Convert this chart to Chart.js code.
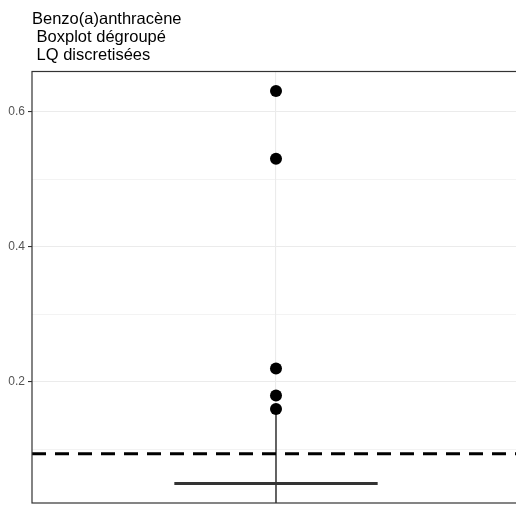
<!DOCTYPE html>
<html>
<head>
<meta charset="utf-8">
<script src="https://cdn.jsdelivr.net/npm/chart.js@4.4.1/dist/chart.umd.min.js"></script>
<style>
    html, body { margin: 0; padding: 0; background: #fff; overflow: hidden; }
    #wrap { width: 516px; height: 505px; overflow: hidden; position: relative; }
    #chart { display: block; position: absolute; left: 0; top: 0; }
</style>
</head>
<body>
<div id="wrap"><canvas id="chart" width="522" height="505"></canvas></div>
<script>
// =========================
// Data
// =========================
const titleLines = ['Benzo(a)anthracène', ' Boxplot dégroupé', ' LQ discretisées'];
const outlierValues = [0.63, 0.53, 0.22, 0.18, 0.16];
const medianValue = 0.05;
const whiskerValues = [0.02, 0.16];
const lqValue = 0.094;
const yMajorTicks = [0.2, 0.4, 0.6];
const yMinorTicks = [0.1, 0.3, 0.5];
const yRange = [0.021, 0.659];
const xRange = [0.4, 1.6];
const boxCenter = 1;
const boxHalfWidth = 0.25;

const round1 = v => Math.round(v * 10) / 10;
const isMajor = v => yMajorTicks.includes(round1(v));

// =========================
// Plugins: title text + panel border
// =========================
const titlePlugin = {
    id: 'titleText',
    afterDraw(chart) {
        const ctx = chart.ctx;
        ctx.save();
        ctx.fillStyle = '#000';
        ctx.font = '16.5px "Liberation Sans", Arial, sans-serif';
        ctx.textAlign = 'left';
        ctx.textBaseline = 'alphabetic';
        titleLines.forEach((line, i) => ctx.fillText(line, 32, 23.5 + i * 18));
        ctx.restore();
    }
};

const borderPlugin = {
    id: 'panelBorder',
    afterDraw(chart) {
        const a = chart.chartArea;
        const ctx = chart.ctx;
        ctx.save();
        ctx.strokeStyle = '#333333';
        ctx.lineWidth = 1.2;
        ctx.strokeRect(a.left, a.top, a.right - a.left, a.bottom - a.top);
        ctx.restore();
    }
};

// Drop the label overhang padding so the panel fills the canvas like ggplot
const noPadding = scale => {
    scale.paddingTop = 0;
    scale.paddingBottom = 0;
    scale.paddingLeft = 0;
    scale.paddingRight = 0;
};

// =========================
// Render chart
// =========================
new Chart(document.getElementById('chart'), {
    type: 'scatter',
    data: {
        datasets: [
            {
                data: outlierValues.map(v => ({ x: boxCenter, y: v })),
                pointRadius: 6,
                pointBackgroundColor: '#000',
                pointBorderWidth: 0,
                showLine: false
            },
            {
                data: [{ x: xRange[0], y: lqValue }, { x: xRange[1], y: lqValue }],
                showLine: true,
                borderColor: '#000',
                borderWidth: 3,
                borderDash: [14, 9],
                pointRadius: 0
            },
            {
                data: [{ x: boxCenter - boxHalfWidth, y: medianValue }, { x: boxCenter + boxHalfWidth, y: medianValue }],
                showLine: true,
                borderColor: '#333333',
                borderWidth: 3,
                pointRadius: 0
            },
            {
                data: whiskerValues.map(v => ({ x: boxCenter, y: v })),
                showLine: true,
                borderColor: '#333333',
                borderWidth: 1.5,
                pointRadius: 0
            }
        ]
    },
    options: {
        responsive: false,
        animation: false,
        devicePixelRatio: 1,
        layout: { autoPadding: false, padding: { top: 71.5, left: 0, right: 2, bottom: 2 } },
        plugins: {
            legend: { display: false },
            tooltip: { enabled: false },
            title: { display: false }
        },
        scales: {
            x: {
                type: 'linear',
                min: xRange[0],
                max: xRange[1],
                afterBuildTicks: scale => { scale.ticks = [{ value: boxCenter }]; },
                afterFit: scale => { scale.height = 0; noPadding(scale); },
                ticks: { display: false },
                grid: { color: '#ebebeb', lineWidth: 1.1, drawTicks: false },
                border: { display: false }
            },
            y: {
                type: 'linear',
                min: yRange[0],
                max: yRange[1],
                afterBuildTicks: scale => {
                    scale.ticks = yMinorTicks.concat(yMajorTicks).sort().map(v => ({ value: v }));
                },
                afterFit: scale => { scale.width = 32; noPadding(scale); },
                ticks: {
                    padding: 3,
                    color: '#555555',
                    font: { family: '"Liberation Sans", Arial, sans-serif', size: 12 },
                    callback: v => isMajor(v) ? round1(v).toFixed(1) : ''
                },
                grid: {
                    color: '#ebebeb',
                    lineWidth: ctx => isMajor(ctx.tick.value) ? 1.1 : 0.6,
                    tickLength: 4,
                    tickColor: ctx => isMajor(ctx.tick.value) ? '#333333' : 'rgba(0,0,0,0)',
                    tickWidth: 1.1
                },
                border: { display: false }
            }
        }
    },
    plugins: [titlePlugin, borderPlugin]
});
</script>
</body>
</html>
